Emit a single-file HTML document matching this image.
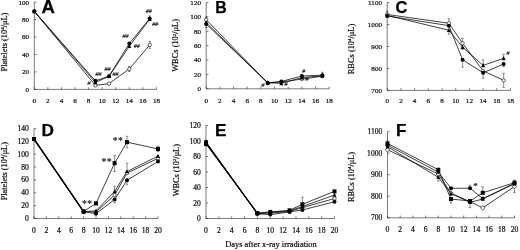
<!DOCTYPE html>
<html><head><meta charset="utf-8"><title>Figure</title>
<style>
html,body{margin:0;padding:0;background:#fff;}
body{width:520px;height:250px;overflow:hidden;}
svg{display:block;font-family:"Liberation Serif",serif;fill:#111;filter:blur(0.35px);}
text{stroke:#111;stroke-width:0.22px;}
text.N{stroke:#000;stroke-width:0.12px;}
text.L{stroke:#000;stroke-width:0.25px;}
text.S{stroke:#111;stroke-width:0.15px;letter-spacing:0.4px;fill:#111;}
</style></head><body>
<svg width="520" height="250" viewBox="0 0 520 250">
<rect width="520" height="250" fill="#fff"/>
<path d="M34.3 2.2 L34.3 89.4 L156.5 89.4" fill="none" stroke="#222" stroke-width="0.6"/>
<path d="M34.30 87.2 L34.30 89.4 M47.88 87.2 L47.88 89.4 M61.46 87.2 L61.46 89.4 M75.03 87.2 L75.03 89.4 M88.61 87.2 L88.61 89.4 M102.19 87.2 L102.19 89.4 M115.77 87.2 L115.77 89.4 M129.34 87.2 L129.34 89.4 M142.92 87.2 L142.92 89.4 M156.50 87.2 L156.50 89.4 M34.3 89.40 L36.5 89.40 M34.3 71.96 L36.5 71.96 M34.3 54.52 L36.5 54.52 M34.3 37.08 L36.5 37.08 M34.3 19.64 L36.5 19.64 M34.3 2.20 L36.5 2.20 " fill="none" stroke="#222" stroke-width="0.6"/>
<text x="34.30" y="102.60" font-size="7.1" text-anchor="middle">0</text>
<text x="47.88" y="102.60" font-size="7.1" text-anchor="middle">2</text>
<text x="61.46" y="102.60" font-size="7.1" text-anchor="middle">4</text>
<text x="75.03" y="102.60" font-size="7.1" text-anchor="middle">6</text>
<text x="88.61" y="102.60" font-size="7.1" text-anchor="middle">8</text>
<text x="102.19" y="102.60" font-size="7.1" text-anchor="middle">10</text>
<text x="115.77" y="102.60" font-size="7.1" text-anchor="middle">12</text>
<text x="129.34" y="102.60" font-size="7.1" text-anchor="middle">14</text>
<text x="142.92" y="102.60" font-size="7.1" text-anchor="middle">16</text>
<text x="156.50" y="102.60" font-size="7.1" text-anchor="middle">18</text>
<text x="29.10" y="91.74" font-size="7.1" text-anchor="end">0</text>
<text x="29.10" y="74.30" font-size="7.1" text-anchor="end">20</text>
<text x="29.10" y="56.86" font-size="7.1" text-anchor="end">40</text>
<text x="29.10" y="39.42" font-size="7.1" text-anchor="end">60</text>
<text x="29.10" y="21.98" font-size="7.1" text-anchor="end">80</text>
<text x="29.10" y="4.54" font-size="7.1" text-anchor="end">100</text>
<path d="M34.30 11.36 L95.40 85.39 L108.98 83.64 L129.34 68.91 L149.71 44.93" fill="none" stroke="#000" stroke-width="0.75" stroke-linejoin="round"/>
<path d="M34.30 11.36 L95.40 82.42 L108.98 76.32 L129.34 46.24 L149.71 19.20" fill="none" stroke="#000" stroke-width="0.75" stroke-linejoin="round"/>
<path d="M34.30 11.36 L95.40 80.85 L108.98 76.15 L129.34 43.62 L149.71 18.51" fill="none" stroke="#000" stroke-width="0.75" stroke-linejoin="round"/>
<path d="M129.34 68.91 L129.34 66.29 M128.14 66.29 L130.54 66.29" stroke="#333" stroke-width="0.55" fill="none"/>
<path d="M129.34 68.91 L129.34 71.52 M128.14 71.52 L130.54 71.52" stroke="#333" stroke-width="0.55" fill="none"/>
<path d="M149.71 44.93 L149.71 41.44 M148.51 41.44 L150.91 41.44" stroke="#333" stroke-width="0.55" fill="none"/>
<path d="M149.71 44.93 L149.71 48.42 M148.51 48.42 L150.91 48.42" stroke="#333" stroke-width="0.55" fill="none"/>
<path d="M149.71 18.51 L149.71 15.89 M148.51 15.89 L150.91 15.89" stroke="#333" stroke-width="0.55" fill="none"/>
<circle cx="34.30" cy="11.36" r="1.70" fill="#fff" stroke="#000" stroke-width="0.6"/>
<circle cx="95.40" cy="85.39" r="1.70" fill="#fff" stroke="#000" stroke-width="0.6"/>
<circle cx="108.98" cy="83.64" r="1.70" fill="#fff" stroke="#000" stroke-width="0.6"/>
<circle cx="129.34" cy="68.91" r="1.70" fill="#fff" stroke="#000" stroke-width="0.6"/>
<circle cx="149.71" cy="44.93" r="1.70" fill="#fff" stroke="#000" stroke-width="0.6"/>
<path d="M34.30 9.06 L36.30 13.16 L32.30 13.16 Z" fill="#000"/>
<path d="M95.40 80.12 L97.40 84.22 L93.40 84.22 Z" fill="#000"/>
<path d="M108.98 74.02 L110.98 78.12 L106.98 78.12 Z" fill="#000"/>
<path d="M129.34 43.94 L131.34 48.04 L127.34 48.04 Z" fill="#000"/>
<path d="M149.71 16.90 L151.71 21.00 L147.71 21.00 Z" fill="#000"/>
<circle cx="34.30" cy="11.36" r="2.00" fill="#000"/>
<circle cx="95.40" cy="80.85" r="2.00" fill="#000"/>
<circle cx="108.98" cy="76.15" r="2.00" fill="#000"/>
<circle cx="129.34" cy="43.62" r="2.00" fill="#000"/>
<circle cx="149.71" cy="18.51" r="2.00" fill="#000"/>
<text class="L" x="41.6" y="12.5" font-family="Liberation Sans, sans-serif" font-weight="bold" font-size="18.5" fill="#000">A</text>
<text transform="translate(7.1 42) rotate(-90)" font-size="8.4" text-anchor="middle">Platelets (10<tspan dy="-2.9" font-size="4.9">4</tspan><tspan dy="2.9">/μL)</tspan></text>
<text class="N" x="98.5" y="75.5" font-size="6" text-anchor="middle" font-style="italic" fill="#000">##</text>
<text class="N" x="89" y="85" font-size="6" text-anchor="middle" font-style="italic" fill="#000">#</text>
<text class="N" x="107.5" y="70.5" font-size="6" text-anchor="middle" font-style="italic" fill="#000">##</text>
<text class="N" x="115.5" y="75.8" font-size="6" text-anchor="middle" font-style="italic" fill="#000">##</text>
<text class="N" x="125.5" y="37.5" font-size="6" text-anchor="middle" font-style="italic" fill="#000">##</text>
<text class="N" x="136.7" y="47.8" font-size="6" text-anchor="middle" font-style="italic" fill="#000">##</text>
<text class="N" x="148.8" y="13.2" font-size="6" text-anchor="middle" font-style="italic" fill="#000">##</text>
<text class="N" x="155.3" y="26" font-size="6" text-anchor="middle" font-style="italic" fill="#000">##</text>
<path d="M206.2 2.5 L206.2 88.8 L329.2 88.8" fill="none" stroke="#222" stroke-width="0.6"/>
<path d="M206.20 86.6 L206.20 88.8 M219.87 86.6 L219.87 88.8 M233.53 86.6 L233.53 88.8 M247.20 86.6 L247.20 88.8 M260.87 86.6 L260.87 88.8 M274.53 86.6 L274.53 88.8 M288.20 86.6 L288.20 88.8 M301.87 86.6 L301.87 88.8 M315.53 86.6 L315.53 88.8 M329.20 86.6 L329.20 88.8 M206.2 88.80 L208.39999999999998 88.80 M206.2 74.42 L208.39999999999998 74.42 M206.2 60.03 L208.39999999999998 60.03 M206.2 45.65 L208.39999999999998 45.65 M206.2 31.27 L208.39999999999998 31.27 M206.2 16.88 L208.39999999999998 16.88 M206.2 2.50 L208.39999999999998 2.50 " fill="none" stroke="#222" stroke-width="0.6"/>
<text x="206.20" y="102.80" font-size="7.1" text-anchor="middle">0</text>
<text x="219.87" y="102.80" font-size="7.1" text-anchor="middle">2</text>
<text x="233.53" y="102.80" font-size="7.1" text-anchor="middle">4</text>
<text x="247.20" y="102.80" font-size="7.1" text-anchor="middle">6</text>
<text x="260.87" y="102.80" font-size="7.1" text-anchor="middle">8</text>
<text x="274.53" y="102.80" font-size="7.1" text-anchor="middle">10</text>
<text x="288.20" y="102.80" font-size="7.1" text-anchor="middle">12</text>
<text x="301.87" y="102.80" font-size="7.1" text-anchor="middle">14</text>
<text x="315.53" y="102.80" font-size="7.1" text-anchor="middle">16</text>
<text x="329.20" y="102.80" font-size="7.1" text-anchor="middle">18</text>
<text x="201.00" y="91.14" font-size="7.1" text-anchor="end">0</text>
<text x="201.00" y="76.76" font-size="7.1" text-anchor="end">20</text>
<text x="201.00" y="62.38" font-size="7.1" text-anchor="end">40</text>
<text x="201.00" y="47.99" font-size="7.1" text-anchor="end">60</text>
<text x="201.00" y="33.61" font-size="7.1" text-anchor="end">80</text>
<text x="201.00" y="19.23" font-size="7.1" text-anchor="end">100</text>
<text x="201.00" y="4.84" font-size="7.1" text-anchor="end">120</text>
<path d="M206.20 19.76 L267.70 83.05 L281.37 81.97 L301.87 79.09 L322.37 76.21" fill="none" stroke="#000" stroke-width="0.75" stroke-linejoin="round"/>
<path d="M206.20 22.64 L267.70 82.83 L281.37 83.33 L301.87 77.65 L322.37 75.86" fill="none" stroke="#000" stroke-width="0.75" stroke-linejoin="round"/>
<path d="M206.20 24.08 L267.70 82.69 L281.37 81.46 L301.87 76.00 L322.37 75.14" fill="none" stroke="#000" stroke-width="0.75" stroke-linejoin="round"/>
<path d="M206.20 19.76 L206.20 16.88 M205.00 16.88 L207.40 16.88" stroke="#333" stroke-width="0.55" fill="none"/>
<path d="M206.20 22.64 L206.20 20.48 M205.00 20.48 L207.40 20.48" stroke="#333" stroke-width="0.55" fill="none"/>
<path d="M206.20 22.64 L206.20 24.79 M205.00 24.79 L207.40 24.79" stroke="#333" stroke-width="0.55" fill="none"/>
<path d="M206.20 24.08 L206.20 27.67 M205.00 27.67 L207.40 27.67" stroke="#333" stroke-width="0.55" fill="none"/>
<path d="M322.37 75.14 L322.37 72.26 M321.17 72.26 L323.57 72.26" stroke="#333" stroke-width="0.55" fill="none"/>
<circle cx="206.20" cy="19.76" r="1.70" fill="#fff" stroke="#000" stroke-width="0.6"/>
<circle cx="267.70" cy="83.05" r="1.70" fill="#fff" stroke="#000" stroke-width="0.6"/>
<circle cx="281.37" cy="81.97" r="1.70" fill="#fff" stroke="#000" stroke-width="0.6"/>
<circle cx="301.87" cy="79.09" r="1.70" fill="#fff" stroke="#000" stroke-width="0.6"/>
<circle cx="322.37" cy="76.21" r="1.70" fill="#fff" stroke="#000" stroke-width="0.6"/>
<path d="M206.20 20.34 L208.20 24.44 L204.20 24.44 Z" fill="#000"/>
<path d="M267.70 80.53 L269.70 84.63 L265.70 84.63 Z" fill="#000"/>
<path d="M281.37 81.03 L283.37 85.13 L279.37 85.13 Z" fill="#000"/>
<path d="M301.87 75.35 L303.87 79.45 L299.87 79.45 Z" fill="#000"/>
<path d="M322.37 73.56 L324.37 77.66 L320.37 77.66 Z" fill="#000"/>
<circle cx="206.20" cy="24.08" r="2.00" fill="#000"/>
<circle cx="267.70" cy="82.69" r="2.00" fill="#000"/>
<circle cx="281.37" cy="81.46" r="2.00" fill="#000"/>
<circle cx="301.87" cy="76.00" r="2.00" fill="#000"/>
<circle cx="322.37" cy="75.14" r="2.00" fill="#000"/>
<text class="L" x="215.2" y="12.7" font-family="Liberation Sans, sans-serif" font-weight="bold" font-size="15.8" fill="#000">B</text>
<text transform="translate(178.4 45.4) rotate(-90)" font-size="8.4" text-anchor="middle">WBCs (10<tspan dy="-2.9" font-size="4.9">2</tspan><tspan dy="2.9">/μL)</tspan></text>
<text class="N" x="263" y="86.5" font-size="6" text-anchor="middle" font-style="italic" fill="#000">#</text>
<text class="N" x="286" y="86" font-size="6" text-anchor="middle" font-style="italic" fill="#000">#</text>
<text class="N" x="303.8" y="72.8" font-size="6" text-anchor="middle" font-style="italic" fill="#000">#</text>
<text class="N" x="307" y="80.8" font-size="6" text-anchor="middle" font-style="italic" fill="#000">#</text>
<path d="M387.2 2.6 L387.2 90.4 L510.5 90.4" fill="none" stroke="#222" stroke-width="0.6"/>
<path d="M387.20 88.2 L387.20 90.4 M400.90 88.2 L400.90 90.4 M414.60 88.2 L414.60 90.4 M428.30 88.2 L428.30 90.4 M442.00 88.2 L442.00 90.4 M455.70 88.2 L455.70 90.4 M469.40 88.2 L469.40 90.4 M483.10 88.2 L483.10 90.4 M496.80 88.2 L496.80 90.4 M510.50 88.2 L510.50 90.4 M387.2 90.40 L389.4 90.40 M387.2 68.45 L389.4 68.45 M387.2 46.50 L389.4 46.50 M387.2 24.55 L389.4 24.55 M387.2 2.60 L389.4 2.60 " fill="none" stroke="#222" stroke-width="0.6"/>
<text x="387.20" y="103.20" font-size="7.1" text-anchor="middle">0</text>
<text x="400.90" y="103.20" font-size="7.1" text-anchor="middle">2</text>
<text x="414.60" y="103.20" font-size="7.1" text-anchor="middle">4</text>
<text x="428.30" y="103.20" font-size="7.1" text-anchor="middle">6</text>
<text x="442.00" y="103.20" font-size="7.1" text-anchor="middle">8</text>
<text x="455.70" y="103.20" font-size="7.1" text-anchor="middle">10</text>
<text x="469.40" y="103.20" font-size="7.1" text-anchor="middle">12</text>
<text x="483.10" y="103.20" font-size="7.1" text-anchor="middle">14</text>
<text x="496.80" y="103.20" font-size="7.1" text-anchor="middle">16</text>
<text x="510.50" y="103.20" font-size="7.1" text-anchor="middle">18</text>
<text x="382.00" y="92.74" font-size="7.1" text-anchor="end">700</text>
<text x="382.00" y="70.79" font-size="7.1" text-anchor="end">800</text>
<text x="382.00" y="48.84" font-size="7.1" text-anchor="end">900</text>
<text x="382.00" y="26.89" font-size="7.1" text-anchor="end">1000</text>
<text x="382.00" y="4.94" font-size="7.1" text-anchor="end">1100</text>
<path d="M387.20 14.45 L448.85 23.23 L462.55 43.21 L483.10 70.86 L503.65 80.30" fill="none" stroke="#000" stroke-width="0.75" stroke-linejoin="round"/>
<path d="M387.20 15.33 L448.85 30.26 L462.55 47.16 L483.10 65.38 L503.65 58.35" fill="none" stroke="#000" stroke-width="0.75" stroke-linejoin="round"/>
<path d="M387.20 15.99 L448.85 25.65 L462.55 59.67 L483.10 72.84 L503.65 64.06" fill="none" stroke="#000" stroke-width="0.75" stroke-linejoin="round"/>
<path d="M387.20 14.45 L387.20 11.16 M386.00 11.16 L388.40 11.16" stroke="#333" stroke-width="0.55" fill="none"/>
<path d="M448.85 23.23 L448.85 18.84 M447.65 18.84 L450.05 18.84" stroke="#333" stroke-width="0.55" fill="none"/>
<path d="M462.55 43.21 L462.55 38.38 M461.35 38.38 L463.75 38.38" stroke="#333" stroke-width="0.55" fill="none"/>
<path d="M462.55 43.21 L462.55 49.79 M461.35 49.79 L463.75 49.79" stroke="#333" stroke-width="0.55" fill="none"/>
<path d="M503.65 80.30 L503.65 73.28 M502.45 73.28 L504.85 73.28" stroke="#333" stroke-width="0.55" fill="none"/>
<path d="M503.65 80.30 L503.65 87.33 M502.45 87.33 L504.85 87.33" stroke="#333" stroke-width="0.55" fill="none"/>
<path d="M448.85 30.26 L448.85 34.21 M447.65 34.21 L450.05 34.21" stroke="#333" stroke-width="0.55" fill="none"/>
<path d="M483.10 65.38 L483.10 59.89 M481.90 59.89 L484.30 59.89" stroke="#333" stroke-width="0.55" fill="none"/>
<path d="M503.65 58.35 L503.65 54.40 M502.45 54.40 L504.85 54.40" stroke="#333" stroke-width="0.55" fill="none"/>
<path d="M462.55 59.67 L462.55 67.13 M461.35 67.13 L463.75 67.13" stroke="#333" stroke-width="0.55" fill="none"/>
<path d="M483.10 72.84 L483.10 78.33 M481.90 78.33 L484.30 78.33" stroke="#333" stroke-width="0.55" fill="none"/>
<path d="M503.65 64.06 L503.65 66.69 M502.45 66.69 L504.85 66.69" stroke="#333" stroke-width="0.55" fill="none"/>
<circle cx="387.20" cy="14.45" r="1.70" fill="#fff" stroke="#000" stroke-width="0.6"/>
<circle cx="448.85" cy="23.23" r="1.70" fill="#fff" stroke="#000" stroke-width="0.6"/>
<circle cx="462.55" cy="43.21" r="1.70" fill="#fff" stroke="#000" stroke-width="0.6"/>
<circle cx="483.10" cy="70.86" r="1.70" fill="#fff" stroke="#000" stroke-width="0.6"/>
<circle cx="503.65" cy="80.30" r="1.70" fill="#fff" stroke="#000" stroke-width="0.6"/>
<path d="M387.20 13.03 L389.20 17.13 L385.20 17.13 Z" fill="#000"/>
<path d="M448.85 27.96 L450.85 32.06 L446.85 32.06 Z" fill="#000"/>
<path d="M462.55 44.86 L464.55 48.96 L460.55 48.96 Z" fill="#000"/>
<path d="M483.10 63.08 L485.10 67.18 L481.10 67.18 Z" fill="#000"/>
<path d="M503.65 56.05 L505.65 60.15 L501.65 60.15 Z" fill="#000"/>
<circle cx="387.20" cy="15.99" r="2.00" fill="#000"/>
<circle cx="448.85" cy="25.65" r="2.00" fill="#000"/>
<circle cx="462.55" cy="59.67" r="2.00" fill="#000"/>
<circle cx="483.10" cy="72.84" r="2.00" fill="#000"/>
<circle cx="503.65" cy="64.06" r="2.00" fill="#000"/>
<text class="L" x="395.6" y="12.7" font-family="Liberation Sans, sans-serif" font-weight="bold" font-size="16.5" fill="#000">C</text>
<text transform="translate(353.9 49) rotate(-90)" font-size="8.4" text-anchor="middle">RBCs (10<tspan dy="-2.9" font-size="4.9">4</tspan><tspan dy="2.9">/μL)</tspan></text>
<text class="N" x="508" y="55.3" font-size="6" text-anchor="middle" font-style="italic" fill="#000">#</text>
<path d="M34 128.4 L34 218.5 L158 218.5" fill="none" stroke="#222" stroke-width="0.6"/>
<path d="M34.00 216.3 L34.00 218.5 M46.40 216.3 L46.40 218.5 M58.80 216.3 L58.80 218.5 M71.20 216.3 L71.20 218.5 M83.60 216.3 L83.60 218.5 M96.00 216.3 L96.00 218.5 M108.40 216.3 L108.40 218.5 M120.80 216.3 L120.80 218.5 M133.20 216.3 L133.20 218.5 M145.60 216.3 L145.60 218.5 M158.00 216.3 L158.00 218.5 M34 218.50 L36.2 218.50 M34 205.63 L36.2 205.63 M34 192.76 L36.2 192.76 M34 179.89 L36.2 179.89 M34 167.01 L36.2 167.01 M34 154.14 L36.2 154.14 M34 141.27 L36.2 141.27 M34 128.40 L36.2 128.40 " fill="none" stroke="#222" stroke-width="0.6"/>
<text x="34.00" y="233.20" font-size="7.6" text-anchor="middle">0</text>
<text x="46.40" y="233.20" font-size="7.6" text-anchor="middle">2</text>
<text x="58.80" y="233.20" font-size="7.6" text-anchor="middle">4</text>
<text x="71.20" y="233.20" font-size="7.6" text-anchor="middle">6</text>
<text x="83.60" y="233.20" font-size="7.6" text-anchor="middle">8</text>
<text x="96.00" y="233.20" font-size="7.6" text-anchor="middle">10</text>
<text x="108.40" y="233.20" font-size="7.6" text-anchor="middle">12</text>
<text x="120.80" y="233.20" font-size="7.6" text-anchor="middle">14</text>
<text x="133.20" y="233.20" font-size="7.6" text-anchor="middle">16</text>
<text x="145.60" y="233.20" font-size="7.6" text-anchor="middle">18</text>
<text x="158.00" y="233.20" font-size="7.6" text-anchor="middle">20</text>
<text x="28.80" y="221.01" font-size="7.6" text-anchor="end">0</text>
<text x="28.80" y="208.14" font-size="7.6" text-anchor="end">20</text>
<text x="28.80" y="195.27" font-size="7.6" text-anchor="end">40</text>
<text x="28.80" y="182.39" font-size="7.6" text-anchor="end">60</text>
<text x="28.80" y="169.52" font-size="7.6" text-anchor="end">80</text>
<text x="28.80" y="156.65" font-size="7.6" text-anchor="end">100</text>
<text x="28.80" y="143.78" font-size="7.6" text-anchor="end">120</text>
<text x="28.80" y="130.91" font-size="7.6" text-anchor="end">140</text>
<path d="M34.00 139.02 L83.60 211.74 L96.00 212.06 L114.60 195.01 L127.00 173.13 L158.00 158.33" fill="none" stroke="#000" stroke-width="0.75" stroke-linejoin="round"/>
<path d="M34.00 139.02 L83.60 211.74 L96.00 210.78 L114.60 191.47 L127.00 171.52 L158.00 156.07" fill="none" stroke="#000" stroke-width="0.75" stroke-linejoin="round"/>
<path d="M34.00 139.02 L83.60 211.74 L96.00 213.67 L114.60 199.51 L127.00 180.21 L158.00 161.54" fill="none" stroke="#000" stroke-width="0.75" stroke-linejoin="round"/>
<path d="M34.00 139.02 L83.60 211.42 L96.00 203.44 L114.60 163.15 L127.00 142.11 L158.00 148.99" fill="none" stroke="#000" stroke-width="0.75" stroke-linejoin="round"/>
<path d="M34.00 139.02 L83.60 211.61" fill="none" stroke="#000" stroke-width="1.5" stroke-linejoin="round"/>
<path d="M114.60 191.47 L114.60 186.32 M113.40 186.32 L115.80 186.32" stroke="#333" stroke-width="0.55" fill="none"/>
<path d="M127.00 171.52 L127.00 163.15 M125.80 163.15 L128.20 163.15" stroke="#333" stroke-width="0.55" fill="none"/>
<path d="M114.60 199.51 L114.60 202.73 M113.40 202.73 L115.80 202.73" stroke="#333" stroke-width="0.55" fill="none"/>
<path d="M127.00 180.21 L127.00 184.71 M125.80 184.71 L128.20 184.71" stroke="#333" stroke-width="0.55" fill="none"/>
<path d="M114.60 163.15 L114.60 155.43 M113.40 155.43 L115.80 155.43" stroke="#333" stroke-width="0.55" fill="none"/>
<path d="M114.60 163.15 L114.60 171.52 M113.40 171.52 L115.80 171.52" stroke="#333" stroke-width="0.55" fill="none"/>
<path d="M127.00 142.11 L127.00 136.32 M125.80 136.32 L128.20 136.32" stroke="#333" stroke-width="0.55" fill="none"/>
<path d="M127.00 142.11 L127.00 147.90 M125.80 147.90 L128.20 147.90" stroke="#333" stroke-width="0.55" fill="none"/>
<path d="M158.00 148.99 L158.00 146.42 M156.80 146.42 L159.20 146.42" stroke="#333" stroke-width="0.55" fill="none"/>
<path d="M158.00 148.99 L158.00 151.57 M156.80 151.57 L159.20 151.57" stroke="#333" stroke-width="0.55" fill="none"/>
<circle cx="34.00" cy="139.02" r="1.70" fill="#fff" stroke="#000" stroke-width="0.6"/>
<circle cx="83.60" cy="211.74" r="1.70" fill="#fff" stroke="#000" stroke-width="0.6"/>
<circle cx="96.00" cy="212.06" r="1.70" fill="#fff" stroke="#000" stroke-width="0.6"/>
<circle cx="114.60" cy="195.01" r="1.70" fill="#fff" stroke="#000" stroke-width="0.6"/>
<circle cx="127.00" cy="173.13" r="1.70" fill="#fff" stroke="#000" stroke-width="0.6"/>
<circle cx="158.00" cy="158.33" r="1.70" fill="#fff" stroke="#000" stroke-width="0.6"/>
<path d="M34.00 136.72 L36.00 140.82 L32.00 140.82 Z" fill="#000"/>
<path d="M83.60 209.44 L85.60 213.54 L81.60 213.54 Z" fill="#000"/>
<path d="M96.00 208.48 L98.00 212.58 L94.00 212.58 Z" fill="#000"/>
<path d="M114.60 189.17 L116.60 193.27 L112.60 193.27 Z" fill="#000"/>
<path d="M127.00 169.22 L129.00 173.32 L125.00 173.32 Z" fill="#000"/>
<path d="M158.00 153.77 L160.00 157.87 L156.00 157.87 Z" fill="#000"/>
<circle cx="34.00" cy="139.02" r="2.00" fill="#000"/>
<circle cx="83.60" cy="211.74" r="2.00" fill="#000"/>
<circle cx="96.00" cy="213.67" r="2.00" fill="#000"/>
<circle cx="114.60" cy="199.51" r="2.00" fill="#000"/>
<circle cx="127.00" cy="180.21" r="2.00" fill="#000"/>
<circle cx="158.00" cy="161.54" r="2.00" fill="#000"/>
<rect x="32.00" y="137.02" width="4.00" height="4.00" fill="#000"/>
<rect x="81.60" y="209.42" width="4.00" height="4.00" fill="#000"/>
<rect x="94.00" y="201.44" width="4.00" height="4.00" fill="#000"/>
<rect x="112.60" y="161.15" width="4.00" height="4.00" fill="#000"/>
<rect x="125.00" y="140.11" width="4.00" height="4.00" fill="#000"/>
<rect x="156.00" y="146.99" width="4.00" height="4.00" fill="#000"/>
<circle cx="34.00" cy="139.02" r="2.00" fill="#000"/>
<circle cx="83.60" cy="211.61" r="2.00" fill="#000"/>
<text class="L" x="41.4" y="135.7" font-family="Liberation Sans, sans-serif" font-weight="bold" font-size="17.2" fill="#000">D</text>
<text transform="translate(6.9 171.2) rotate(-90)" font-size="8.3" text-anchor="middle">Platelets (10<tspan dy="-2.9" font-size="4.9">4</tspan><tspan dy="2.9">/μL)</tspan></text>
<text class="S" x="87.3" y="206.9" font-size="9.6" text-anchor="middle" font-style="normal" fill="#000">**</text>
<text class="S" x="106.8" y="165.1" font-size="9.6" text-anchor="middle" font-style="normal" fill="#000">**</text>
<text class="S" x="118" y="143.7" font-size="9.6" text-anchor="middle" font-style="normal" fill="#000">**</text>
<path d="M206 125.5 L206 218.5 L334.5 218.5" fill="none" stroke="#222" stroke-width="0.6"/>
<path d="M206.00 216.3 L206.00 218.5 M218.85 216.3 L218.85 218.5 M231.70 216.3 L231.70 218.5 M244.55 216.3 L244.55 218.5 M257.40 216.3 L257.40 218.5 M270.25 216.3 L270.25 218.5 M283.10 216.3 L283.10 218.5 M295.95 216.3 L295.95 218.5 M308.80 216.3 L308.80 218.5 M321.65 216.3 L321.65 218.5 M334.50 216.3 L334.50 218.5 M206 218.50 L208.2 218.50 M206 203.00 L208.2 203.00 M206 187.50 L208.2 187.50 M206 172.00 L208.2 172.00 M206 156.50 L208.2 156.50 M206 141.00 L208.2 141.00 M206 125.50 L208.2 125.50 " fill="none" stroke="#222" stroke-width="0.6"/>
<text x="206.00" y="232.70" font-size="7.6" text-anchor="middle">0</text>
<text x="218.85" y="232.70" font-size="7.6" text-anchor="middle">2</text>
<text x="231.70" y="232.70" font-size="7.6" text-anchor="middle">4</text>
<text x="244.55" y="232.70" font-size="7.6" text-anchor="middle">6</text>
<text x="257.40" y="232.70" font-size="7.6" text-anchor="middle">8</text>
<text x="270.25" y="232.70" font-size="7.6" text-anchor="middle">10</text>
<text x="283.10" y="232.70" font-size="7.6" text-anchor="middle">12</text>
<text x="295.95" y="232.70" font-size="7.6" text-anchor="middle">14</text>
<text x="308.80" y="232.70" font-size="7.6" text-anchor="middle">16</text>
<text x="321.65" y="232.70" font-size="7.6" text-anchor="middle">18</text>
<text x="334.50" y="232.70" font-size="7.6" text-anchor="middle">20</text>
<text x="200.80" y="221.01" font-size="7.6" text-anchor="end">0</text>
<text x="200.80" y="205.51" font-size="7.6" text-anchor="end">20</text>
<text x="200.80" y="190.01" font-size="7.6" text-anchor="end">40</text>
<text x="200.80" y="174.51" font-size="7.6" text-anchor="end">60</text>
<text x="200.80" y="159.01" font-size="7.6" text-anchor="end">80</text>
<text x="200.80" y="143.51" font-size="7.6" text-anchor="end">100</text>
<text x="200.80" y="128.01" font-size="7.6" text-anchor="end">120</text>
<path d="M206.00 142.55 L257.40 213.46 L270.25 213.07 L289.52 211.53 L302.38 207.65 L334.50 198.50" fill="none" stroke="#000" stroke-width="0.75" stroke-linejoin="round"/>
<path d="M206.00 143.32 L257.40 213.46 L270.25 212.30 L289.52 210.75 L302.38 206.49 L334.50 195.02" fill="none" stroke="#000" stroke-width="0.75" stroke-linejoin="round"/>
<path d="M206.00 141.77 L257.40 213.85 L270.25 214.62 L289.52 211.91 L302.38 209.97 L334.50 201.76" fill="none" stroke="#000" stroke-width="0.75" stroke-linejoin="round"/>
<path d="M206.00 144.10 L257.40 213.07 L270.25 211.91 L289.52 210.36 L302.38 204.24 L334.50 191.38" fill="none" stroke="#000" stroke-width="0.75" stroke-linejoin="round"/>
<path d="M206.00 142.94 L257.40 213.46" fill="none" stroke="#000" stroke-width="1.3" stroke-linejoin="round"/>
<path d="M302.38 204.24 L302.38 197.26 M301.18 197.26 L303.57 197.26" stroke="#333" stroke-width="0.55" fill="none"/>
<circle cx="206.00" cy="142.55" r="1.70" fill="#fff" stroke="#000" stroke-width="0.6"/>
<circle cx="257.40" cy="213.46" r="1.70" fill="#fff" stroke="#000" stroke-width="0.6"/>
<circle cx="270.25" cy="213.07" r="1.70" fill="#fff" stroke="#000" stroke-width="0.6"/>
<circle cx="289.52" cy="211.53" r="1.70" fill="#fff" stroke="#000" stroke-width="0.6"/>
<circle cx="302.38" cy="207.65" r="1.70" fill="#fff" stroke="#000" stroke-width="0.6"/>
<circle cx="334.50" cy="198.50" r="1.70" fill="#fff" stroke="#000" stroke-width="0.6"/>
<path d="M206.00 141.02 L208.00 145.12 L204.00 145.12 Z" fill="#000"/>
<path d="M257.40 211.16 L259.40 215.26 L255.40 215.26 Z" fill="#000"/>
<path d="M270.25 210.00 L272.25 214.10 L268.25 214.10 Z" fill="#000"/>
<path d="M289.52 208.45 L291.52 212.55 L287.52 212.55 Z" fill="#000"/>
<path d="M302.38 204.19 L304.38 208.29 L300.38 208.29 Z" fill="#000"/>
<path d="M334.50 192.72 L336.50 196.82 L332.50 196.82 Z" fill="#000"/>
<circle cx="206.00" cy="141.77" r="2.00" fill="#000"/>
<circle cx="257.40" cy="213.85" r="2.00" fill="#000"/>
<circle cx="270.25" cy="214.62" r="2.00" fill="#000"/>
<circle cx="289.52" cy="211.91" r="2.00" fill="#000"/>
<circle cx="302.38" cy="209.97" r="2.00" fill="#000"/>
<circle cx="334.50" cy="201.76" r="2.00" fill="#000"/>
<rect x="204.00" y="142.10" width="4.00" height="4.00" fill="#000"/>
<rect x="255.40" y="211.07" width="4.00" height="4.00" fill="#000"/>
<rect x="268.25" y="209.91" width="4.00" height="4.00" fill="#000"/>
<rect x="287.52" y="208.36" width="4.00" height="4.00" fill="#000"/>
<rect x="300.38" y="202.24" width="4.00" height="4.00" fill="#000"/>
<rect x="332.50" y="189.38" width="4.00" height="4.00" fill="#000"/>
<circle cx="206.00" cy="142.94" r="2.00" fill="#000"/>
<circle cx="257.40" cy="213.46" r="2.00" fill="#000"/>
<text class="L" x="215.0" y="135.5" font-family="Liberation Sans, sans-serif" font-weight="bold" font-size="17.3" fill="#000">E</text>
<text transform="translate(178.8 170.2) rotate(-90)" font-size="8.3" text-anchor="middle">WBCs (10<tspan dy="-2.9" font-size="4.9">2</tspan><tspan dy="2.9">/μL)</tspan></text>
<path d="M387.5 131.6 L387.5 217.8 L514.5 217.8" fill="none" stroke="#222" stroke-width="0.6"/>
<path d="M387.50 215.60000000000002 L387.50 217.8 M400.20 215.60000000000002 L400.20 217.8 M412.90 215.60000000000002 L412.90 217.8 M425.60 215.60000000000002 L425.60 217.8 M438.30 215.60000000000002 L438.30 217.8 M451.00 215.60000000000002 L451.00 217.8 M463.70 215.60000000000002 L463.70 217.8 M476.40 215.60000000000002 L476.40 217.8 M489.10 215.60000000000002 L489.10 217.8 M501.80 215.60000000000002 L501.80 217.8 M514.50 215.60000000000002 L514.50 217.8 M387.5 217.80 L389.7 217.80 M387.5 196.25 L389.7 196.25 M387.5 174.70 L389.7 174.70 M387.5 153.15 L389.7 153.15 M387.5 131.60 L389.7 131.60 " fill="none" stroke="#222" stroke-width="0.6"/>
<text x="387.50" y="232.00" font-size="7.6" text-anchor="middle">0</text>
<text x="400.20" y="232.00" font-size="7.6" text-anchor="middle">2</text>
<text x="412.90" y="232.00" font-size="7.6" text-anchor="middle">4</text>
<text x="425.60" y="232.00" font-size="7.6" text-anchor="middle">6</text>
<text x="438.30" y="232.00" font-size="7.6" text-anchor="middle">8</text>
<text x="451.00" y="232.00" font-size="7.6" text-anchor="middle">10</text>
<text x="463.70" y="232.00" font-size="7.6" text-anchor="middle">12</text>
<text x="476.40" y="232.00" font-size="7.6" text-anchor="middle">14</text>
<text x="489.10" y="232.00" font-size="7.6" text-anchor="middle">16</text>
<text x="501.80" y="232.00" font-size="7.6" text-anchor="middle">18</text>
<text x="514.50" y="232.00" font-size="7.6" text-anchor="middle">20</text>
<text x="382.30" y="220.31" font-size="7.6" text-anchor="end">700</text>
<text x="382.30" y="198.76" font-size="7.6" text-anchor="end">800</text>
<text x="382.30" y="177.21" font-size="7.6" text-anchor="end">900</text>
<text x="382.30" y="155.66" font-size="7.6" text-anchor="end">1000</text>
<text x="382.30" y="134.11" font-size="7.6" text-anchor="end">1100</text>
<path d="M387.50 149.70 L438.30 174.05 L451.00 193.23 L470.05 201.64 L482.75 207.89 L514.50 186.55" fill="none" stroke="#000" stroke-width="0.75" stroke-linejoin="round"/>
<path d="M387.50 146.69 L438.30 177.29 L451.00 193.66 L470.05 202.28 L482.75 199.05 L514.50 183.75" fill="none" stroke="#000" stroke-width="0.75" stroke-linejoin="round"/>
<path d="M387.50 145.18 L438.30 172.11 L451.00 188.28 L470.05 188.28 L482.75 198.62 L514.50 183.32" fill="none" stroke="#000" stroke-width="0.75" stroke-linejoin="round"/>
<path d="M387.50 143.45 L438.30 169.74 L451.00 199.05 L470.05 200.99 L482.75 192.80 L514.50 182.67" fill="none" stroke="#000" stroke-width="0.75" stroke-linejoin="round"/>
<path d="M514.50 186.55 L514.50 192.59 M513.30 192.59 L515.70 192.59" stroke="#333" stroke-width="0.55" fill="none"/>
<path d="M438.30 177.29 L438.30 181.16 M437.10 181.16 L439.50 181.16" stroke="#333" stroke-width="0.55" fill="none"/>
<path d="M470.05 202.28 L470.05 207.67 M468.85 207.67 L471.25 207.67" stroke="#333" stroke-width="0.55" fill="none"/>
<path d="M470.05 188.28 L470.05 185.26 M468.85 185.26 L471.25 185.26" stroke="#333" stroke-width="0.55" fill="none"/>
<path d="M387.50 143.45 L387.50 140.22 M386.30 140.22 L388.70 140.22" stroke="#333" stroke-width="0.55" fill="none"/>
<path d="M451.00 199.05 L451.00 202.93 M449.80 202.93 L452.20 202.93" stroke="#333" stroke-width="0.55" fill="none"/>
<path d="M482.75 192.80 L482.75 186.77 M481.55 186.77 L483.95 186.77" stroke="#333" stroke-width="0.55" fill="none"/>
<path d="M514.50 182.67 L514.50 180.09 M513.30 180.09 L515.70 180.09" stroke="#333" stroke-width="0.55" fill="none"/>
<path d="M387.50 147.30 L389.70 149.70 L387.50 152.10 L385.30 149.70 Z" fill="#fff" stroke="#000" stroke-width="0.6"/>
<path d="M438.30 171.65 L440.50 174.05 L438.30 176.45 L436.10 174.05 Z" fill="#fff" stroke="#000" stroke-width="0.6"/>
<path d="M451.00 190.83 L453.20 193.23 L451.00 195.63 L448.80 193.23 Z" fill="#fff" stroke="#000" stroke-width="0.6"/>
<path d="M470.05 199.24 L472.25 201.64 L470.05 204.04 L467.85 201.64 Z" fill="#fff" stroke="#000" stroke-width="0.6"/>
<path d="M482.75 205.49 L484.95 207.89 L482.75 210.29 L480.55 207.89 Z" fill="#fff" stroke="#000" stroke-width="0.6"/>
<path d="M514.50 184.15 L516.70 186.55 L514.50 188.95 L512.30 186.55 Z" fill="#fff" stroke="#000" stroke-width="0.6"/>
<path d="M387.50 144.38 L389.50 148.49 L385.50 148.49 Z" fill="#000"/>
<path d="M438.30 174.99 L440.30 179.09 L436.30 179.09 Z" fill="#000"/>
<path d="M451.00 191.36 L453.00 195.46 L449.00 195.46 Z" fill="#000"/>
<path d="M470.05 199.98 L472.05 204.08 L468.05 204.08 Z" fill="#000"/>
<path d="M482.75 196.75 L484.75 200.85 L480.75 200.85 Z" fill="#000"/>
<path d="M514.50 181.45 L516.50 185.55 L512.50 185.55 Z" fill="#000"/>
<circle cx="387.50" cy="145.18" r="2.00" fill="#000"/>
<circle cx="438.30" cy="172.11" r="2.00" fill="#000"/>
<circle cx="451.00" cy="188.28" r="2.00" fill="#000"/>
<circle cx="470.05" cy="188.28" r="2.00" fill="#000"/>
<circle cx="482.75" cy="198.62" r="2.00" fill="#000"/>
<circle cx="514.50" cy="183.32" r="2.00" fill="#000"/>
<rect x="385.50" y="141.45" width="4.00" height="4.00" fill="#000"/>
<rect x="436.30" y="167.74" width="4.00" height="4.00" fill="#000"/>
<rect x="449.00" y="197.05" width="4.00" height="4.00" fill="#000"/>
<rect x="468.05" y="198.99" width="4.00" height="4.00" fill="#000"/>
<rect x="480.75" y="190.80" width="4.00" height="4.00" fill="#000"/>
<rect x="512.50" y="180.67" width="4.00" height="4.00" fill="#000"/>
<text class="L" x="396.1" y="135.5" font-family="Liberation Sans, sans-serif" font-weight="bold" font-size="17.0" fill="#000">F</text>
<text transform="translate(354.3 177) rotate(-90)" font-size="8.3" text-anchor="middle">RBCs (10<tspan dy="-2.9" font-size="4.9">4</tspan><tspan dy="2.9">/μL)</tspan></text>
<text class="S" x="475.8" y="189.3" font-size="9" text-anchor="middle" font-style="normal" fill="#000">*</text>
<text x="271" y="247.3" font-size="8.4" text-anchor="middle">Days after x-ray irradiation</text>
</svg>
</body></html>
